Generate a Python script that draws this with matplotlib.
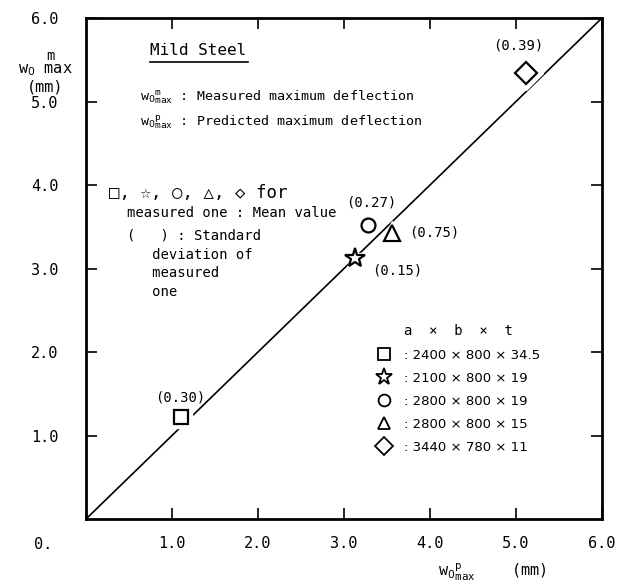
import matplotlib.pyplot as plt
from matplotlib.lines import Line2D

# predicted (x) vs measured (y) max deflection, mm
specimens = ["2400 × 800 × 34.5", "2100 × 800 × 19", "2800 × 800 × 19",
             "2800 × 800 × 15", "3440 × 780 × 11"]
markers = ["s", "*", "o", "^", "D"]
w_pred = [1.10, 3.13, 3.28, 3.56, 5.12]
w_meas = [1.22, 3.13, 3.52, 3.43, 5.34]
std_dev = ["(0.30)", "(0.15)", "(0.27)", "(0.75)", "(0.39)"]
sizes = [10, 15, 10, 11, 11]
# offsets of the std labels in points
lab_off = [(0, 14), (30, -9), (2, 16), (30, 0), (-6, 20)]

ticks = [1.0, 2.0, 3.0, 4.0, 5.0, 6.0]

mono = ["DejaVu Sans Mono", "DejaVu Sans"]
plt.rcParams["font.family"] = mono

fig = plt.figure(figsize=(6.31, 5.85), dpi=100)
ax = fig.add_axes([0.1363, 0.1128, 0.8177, 0.8564])
ax.set_xlim(0, 6)
ax.set_ylim(0, 6)

ax.plot([0, 6], [0, 6], color="black", lw=1.2, zorder=1)

for x, y, m, s, lab, off in zip(w_pred, w_meas, markers, sizes, std_dev, lab_off):
    ax.plot(x, y, marker=m, ms=s + 6, color="white", ls="none", zorder=2)
    ax.plot(x, y, marker=m, ms=s, mfc="white", mec="black", mew=1.6,
            ls="none", zorder=3)
    ax.annotate(lab, (x, y), xytext=off, textcoords="offset points",
                ha="center", va="center", fontsize=10)

for sp in ax.spines.values():
    sp.set_linewidth(2)
ax.set_xticks(ticks)
ax.set_yticks(ticks)
ax.set_xticklabels([f"{t:.1f}" for t in ticks], fontsize=11)
ax.set_yticklabels([f"{t:.1f}" for t in ticks], fontsize=11)
ax.tick_params(direction="in", length=8, width=1.2, top=True, right=True,
               pad=12)
ax.tick_params(axis="y", pad=20)
ax.text(-0.065, -0.035, "0.", transform=ax.transAxes, ha="right", va="top",
        fontsize=11)

# axis labels
fig.text(0.080, 0.905, "m", ha="center", va="center", fontsize=10)
fig.text(0.072, 0.880, "w$_0$ max", ha="center", va="center", fontsize=11)
fig.text(0.072, 0.851, "(mm)", ha="center", va="center", fontsize=11)
fig.text(0.78, 0.004, r"w$_0\mathtt{{}^{p}_{max}}$    (mm)", ha="center",
         va="bottom", fontsize=11)

# annotations
ax.text(0.124, 0.936, "Mild Steel", transform=ax.transAxes, fontsize=11.5,
        ha="left", va="center")
ax.plot([0.124, 0.314], [0.912, 0.912], transform=ax.transAxes, color="black",
        lw=1.2)
ax.text(0.105, 0.842, r"w$_0\mathtt{{}^{m}_{max}}$ : Measured maximum deflection",
        transform=ax.transAxes, fontsize=9.6, va="center")
ax.text(0.105, 0.792, r"w$_0\mathtt{{}^{p}_{max}}$ : Predicted maximum deflection",
        transform=ax.transAxes, fontsize=9.6, va="center")
ax.text(0.045, 0.651, "□, ☆, ○, △, ◇ for", transform=ax.transAxes,
        fontsize=12.5, va="center")
ax.text(0.079, 0.611, "measured one : Mean value", transform=ax.transAxes,
        fontsize=10, va="center")
ax.text(0.079, 0.509, "(   ) : Standard\n   deviation of\n   measured\n   one",
        transform=ax.transAxes, fontsize=10, va="center", linespacing=1.45)

handles = [Line2D([], [], marker=m, ms=s * 0.85, mfc="white", mec="black",
                  mew=1.3, ls="none") for m, s in zip(markers, sizes)]
leg = ax.legend(handles, [": " + s for s in specimens], title="a  ×  b  ×  t",
                loc="upper left", bbox_to_anchor=(0.54, 0.412), frameon=False,
                prop={"family": ["DejaVu Sans", "DejaVu Sans Mono"], "size": 9.5},
                title_fontsize=10, handletextpad=0.9,
                labelspacing=0.76, handlelength=1.2)

fig.savefig("out.png", dpi=100)
